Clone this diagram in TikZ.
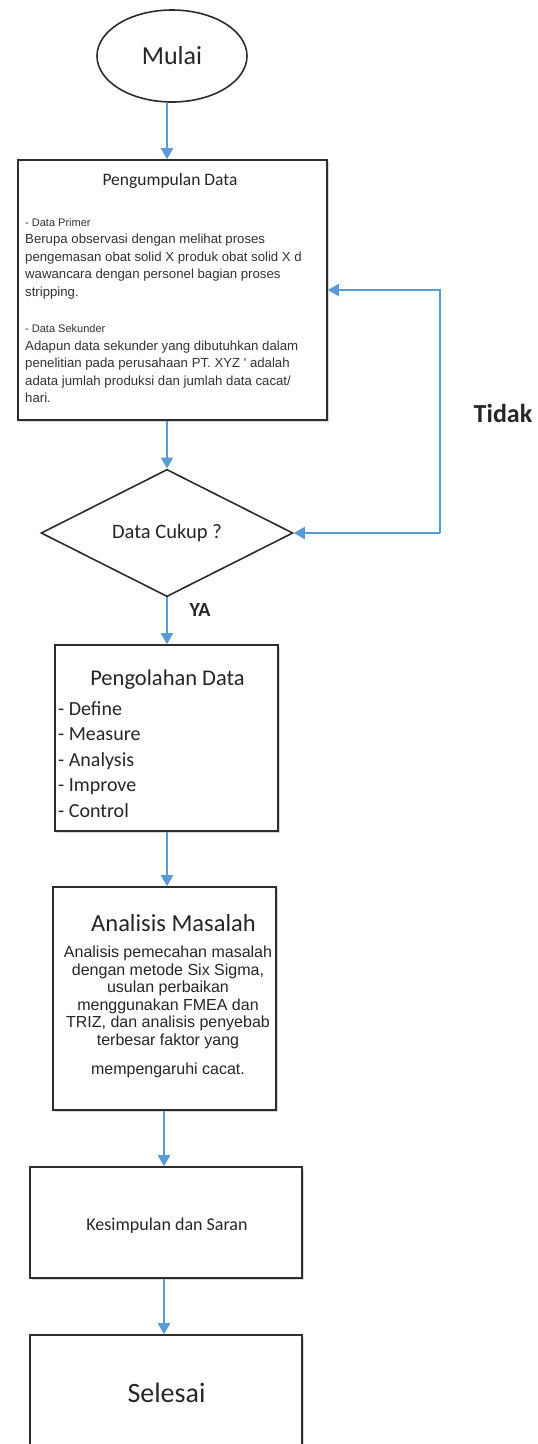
\documentclass[tikz,border=0pt]{standalone}
\usepackage{fontspec}
\setmainfont{Carlito}
\newfontfamily\bodyfont{Liberation Sans}
\usetikzlibrary{arrows.meta,shapes.geometric,shadows}
\definecolor{flowblue}{RGB}{91,155,213}
\definecolor{boxline}{RGB}{45,45,45}
\def\sz#1#2{\fontsize{#1}{#2}\selectfont}

\begin{document}
\begin{tikzpicture}[x=1pt, y=-1pt,
		flow/.style={draw=flowblue, line width=1.8pt, -{Triangle[width=12pt,length=11pt]}},
		box/.style={rectangle, draw=boxline, line width=1.6pt, fill=white, inner sep=0pt,
			drop shadow={shadow xshift=1.5pt, shadow yshift=-1.5pt, opacity=0.3}},
		head/.style={text=black!85, inner sep=0pt}]
		%%%%% START %%%%%
		
		\useasboundingbox (0,0) rectangle (538,1444);
		\fill[white] (0,0) rectangle (538,1444);
		\clip (0,0) rectangle (538,1444);
		
		\coordinate (axis) at (167,0);
		\coordinate (axislow) at (164,0);
		\coordinate (balik) at (440,0);
		
		% start
		\node[ellipse, draw=boxline, line width=1.6pt, minimum width=150pt, minimum height=92pt, inner sep=0pt, head] (mulai) at (172,56) {\sz{26}{30}Mulai};
		
		% data collection
		\node[box, minimum width=309pt, minimum height=260pt] (kumpul) at (172.5,290) {};
		\node[head, font=\sz{17.5}{20}] (kumpulT) at (170,181) {Pengumpulan Data};
		\node[inner sep=0pt, anchor=north west, align=left, text=black!80, font=\bodyfont\sz{13.2}{17.5}] (kumpulB) at (25,218) {%
			{\sz{11}{17.5}- Data Primer}\\
			Berupa observasi dengan melihat proses\\
			pengemasan obat solid X produk obat solid X d\\
			wawancara dengan personel bagian proses\\
			stripping.\\[19pt]
			{\sz{11}{17.5}- Data Sekunder}\\
			Adapun data sekunder yang dibutuhkan dalam\\
			penelitian pada perusahaan PT. XYZ ' adalah\\
			adata jumlah produksi dan jumlah data cacat/\\
			hari.};
		
		% decision
		\node[diamond, draw=boxline, line width=1.6pt, minimum width=252pt, minimum height=110pt, inner sep=0pt, head] (cek) at (167,533) {\sz{20.5}{24}Data Cukup ?};
		\node[head, font=\bfseries\sz{26}{30}] (tidak) at (503,413) {Tidak};
		\node[head, font=\bfseries\sz{20}{24}] (ya) at (200,610) {YA};
		
		% processing
		\node[box, minimum width=223pt, minimum height=186pt] (olah) at (166.5,738) {};
		\node[head, font=\sz{22.5}{26}] (olahT) at (167.5,680) {Pengolahan Data};
		\node[head, anchor=north west, align=left, font=\sz{20}{25.5}] (olahB) at (58,701) {%
			- Define\\
			- Measure\\
			- Analysis\\
			- Improve\\
			- Control};
		
		% analysis
		\node[box, minimum width=223pt, minimum height=223pt] (analisis) at (164.5,998.5) {};
		\node[head, font=\sz{24.5}{28}] (analisisT) at (173.5,923) {Analisis Masalah};
		\node[head, anchor=north, align=center, font=\bodyfont\sz{16}{17.5}] (analisisB) at (168,946) {%
			Analisis pemecahan masalah\\
			dengan metode Six Sigma,\\
			usulan perbaikan\\
			menggunakan FMEA dan\\
			TRIZ, dan analisis penyebab\\
			terbesar faktor yang\\[12pt]
			mempengaruhi cacat.};
		
		% conclusion and end
		\node[box, minimum width=272pt, minimum height=111pt] (simpul) at (166,1222.5) {};
		\node[head, font=\sz{18}{22}] (simpulT) at (167,1226) {Kesimpulan dan Saran};
		\node[box, minimum width=272pt, minimum height=150pt] (selesai) at (166,1410) {};
		\node[head, font=\sz{28}{32}] (selesaiT) at (166.5,1393) {Selesai};
		
		% connectors
		\draw[flow] (mulai.south -| axis) -- (kumpul.north -| axis);
		\draw[flow] (kumpul.south -| axis) -- (cek.north);
		\draw[flow] (cek.south) -- (olah.north -| axis);
		\draw[flow] (olah.south -| axis) -- (analisis.north -| axis);
		\draw[flow] (analisis.south -| axislow) -- (simpul.north -| axislow);
		\draw[flow] (simpul.south -| axislow) -- (selesai.north -| axislow);
		
		% loop back when data is not enough
		\draw[flow] (cek.east -| balik) -- (cek.east);
		\draw[flow] (cek.east -| balik) |- (kumpul.east);
		
		%%%%% END %%%%%
	\end{tikzpicture}
\end{document}
